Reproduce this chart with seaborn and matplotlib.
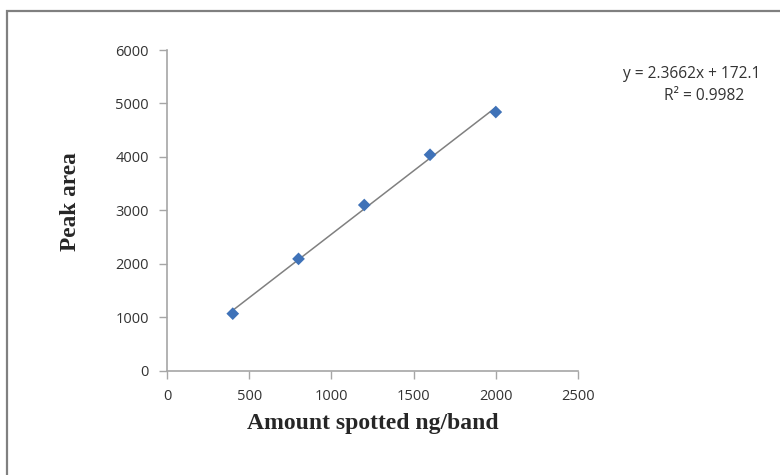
import matplotlib
matplotlib.use("Agg")
import matplotlib.pyplot as plt
import seaborn as sns
import pandas as pd
from matplotlib.patches import Rectangle

amount = [400, 800, 1200, 1600, 2000]
peak_area = [1067, 2092, 3100, 4040, 4839]
x_ticks = [0, 500, 1000, 1500, 2000, 2500]
y_ticks = [0, 1000, 2000, 3000, 4000, 5000, 6000]
equation_line = "y = 2.3662x + 172.1"
r2_line = "R² = 0.9982"

sns.set_style("white")
plt.rcParams['font.family'] = ['Open Sans', 'DejaVu Sans']

df = pd.DataFrame({"amount": amount, "peak": peak_area})

fig = plt.figure(figsize=(7.8, 4.75), dpi=100)
ax = fig.add_axes([167/780, 1 - 370.7/475, (578 - 167)/780, (370.7 - 50)/475])

sns.regplot(data=df, x="amount", y="peak", ax=ax, ci=None, truncate=True, marker="D",
            scatter_kws=dict(s=42, color="#3F72B8", edgecolors="none", alpha=1, zorder=3),
            line_kws=dict(color="#808080", lw=1.1, zorder=2))

ax.set_xlim(0, 2500)
ax.set_ylim(0, 6000)
ax.set_xticks(x_ticks)
ax.set_yticks(y_ticks)
ax.tick_params(axis="both", direction="out", length=6, width=1, color="#A6A6A6",
               labelsize=10.5, labelcolor="#333333", pad=7, bottom=True, left=True)
for s in ["top", "right"]:
    ax.spines[s].set_visible(False)
for s in ["left", "bottom"]:
    ax.spines[s].set_color("#A6A6A6")
    ax.spines[s].set_linewidth(1.2)

ax.set_xlabel("Amount spotted ng/band", family="Liberation Serif", fontweight="bold",
              fontsize=17, labelpad=7)
ax.set_ylabel("Peak area", family="Liberation Serif", fontweight="bold",
              fontsize=16.8)
ax.yaxis.set_label_coords((81 - 167) / 411, (370.7 - 202) / 320.7)

fig.text(691.5/780, 1 - 74/475, equation_line, ha="center", va="center",
         fontsize=11.2, color="#333333")
fig.text(704/780, 1 - 96/475, r2_line, ha="center", va="center",
         fontsize=11.2, color="#333333")

fig.add_artist(Rectangle((7/780, -0.1), 1.2, 1 - 11/475 + 0.1, transform=fig.transFigure,
                         fill=False, edgecolor="#808080", lw=1.6, clip_on=False))

fig.savefig("out.png", dpi=100)
